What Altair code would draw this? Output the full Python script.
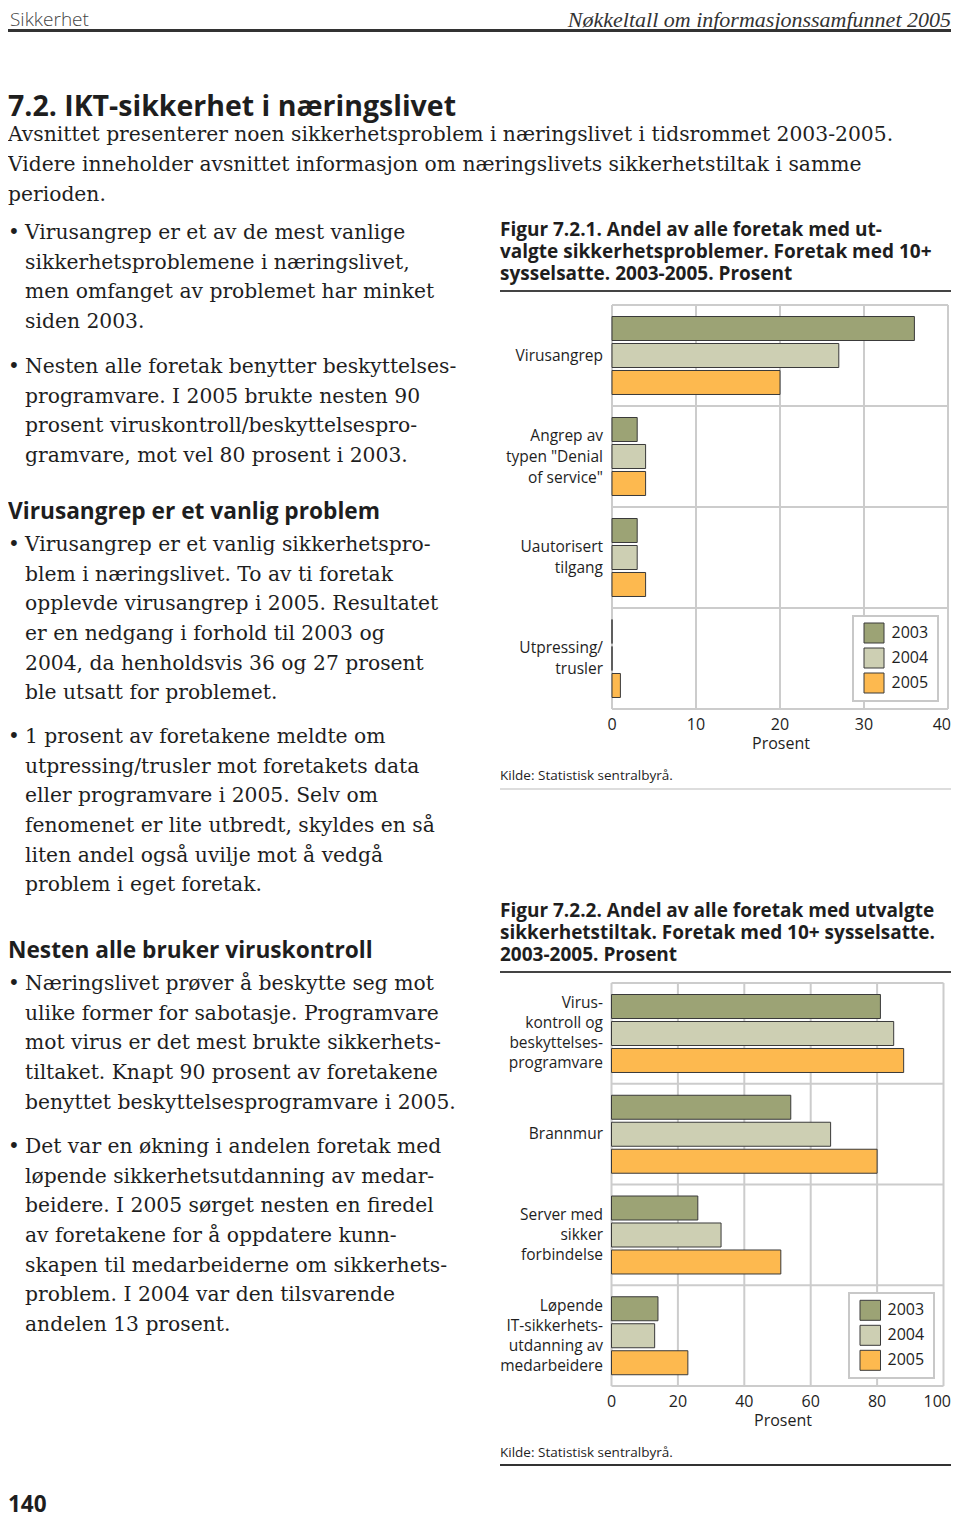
import altair as alt
import pandas as pd

# ---------------- data ----------------
years = ["2003", "2004", "2005"]
year_colors = ["#9ca375", "#cdcfb3", "#fdb94f"]

fig1_cats = ["Virusangrep", "Denial of service", "Uautorisert tilgang", "Utpressing/trusler"]
fig1_labels = ["Virusangrep", "Angrep av\ntypen \"Denial\nof service\"", "Uautorisert\ntilgang", "Utpressing/\ntrusler"]
fig1_2003 = [36, 3, 3, 0]
fig1_2004 = [27, 4, 3, 0]
fig1_2005 = [20, 4, 4, 1]
fig1_ticks = [0, 10, 20, 30, 40]

fig2_cats = ["Viruskontroll", "Brannmur", "Server", "Løpende utdanning"]
fig2_labels = ["Virus-\nkontroll og\nbeskyttelses-\nprogramvare", "Brannmur",
               "Server med\nsikker\nforbindelse", "Løpende\nIT-sikkerhets-\nutdanning av\nmedarbeidere"]
fig2_2003 = [81, 54, 26, 14]
fig2_2004 = [85, 66, 33, 13]
fig2_2005 = [88, 80, 51, 23]
fig2_ticks = [0, 20, 40, 60, 80, 100]

header_left = "Sikkerhet"
header_right = "Nøkkeltall om informasjonssamfunnet 2005"
main_heading = "7.2. IKT-sikkerhet  i  næringslivet"
intro_lines = [
    "Avsnittet presenterer noen sikkerhetsproblem i næringslivet i tidsrommet 2003-2005.",
    "Videre inneholder avsnittet informasjon om næringslivets sikkerhetstiltak i samme",
    "perioden.",
]
bullet1 = ["Virusangrep er et av de mest vanlige", "sikkerhetsproblemene i næringslivet,",
           "men omfanget av problemet har minket", "siden 2003."]
bullet2 = ["Nesten alle foretak benytter beskyttelses-", "programvare. I 2005 brukte nesten 90",
           "prosent viruskontroll/beskyttelsespro-", "gramvare, mot vel 80 prosent i 2003."]
heading2 = "Virusangrep er et vanlig problem"
bullet3 = ["Virusangrep er et vanlig sikkerhetspro-", "blem i næringslivet. To av ti foretak",
           "opplevde virusangrep i 2005. Resultatet", "er en nedgang i forhold til 2003 og",
           "2004, da henholdsvis 36 og 27 prosent", "ble utsatt for problemet."]
bullet4 = ["1 prosent av foretakene meldte om", "utpressing/trusler mot foretakets data",
           "eller programvare i 2005. Selv om", "fenomenet er lite utbredt, skyldes en så",
           "liten andel også uvilje mot å vedgå", "problem i eget foretak."]
heading3 = "Nesten alle bruker viruskontroll"
bullet5 = ["Næringslivet prøver å beskytte seg mot", "ulike former for sabotasje. Programvare",
           "mot virus er det mest brukte sikkerhets-", "tiltaket. Knapt 90 prosent av foretakene",
           "benyttet beskyttelsesprogramvare i 2005."]
bullet6 = ["Det var en økning i andelen foretak med", "løpende sikkerhetsutdanning av medar-",
           "beidere. I 2005 sørget nesten en firedel", "av foretakene for å oppdatere kunn-",
           "skapen til medarbeiderne om sikkerhets-", "problem. I 2004 var den tilsvarende",
           "andelen 13 prosent."]
fig1_title = ["Figur 7.2.1. Andel av alle foretak med ut-", "valgte sikkerhetsproblemer. Foretak med 10+",
              "sysselsatte. 2003-2005. Prosent"]
fig2_title = ["Figur 7.2.2. Andel av alle foretak med utvalgte", "sikkerhetstiltak. Foretak med 10+ sysselsatte.",
              "2003-2005. Prosent"]
source = "Kilde: Statistisk sentralbyrå."
axis_title = "Prosent"
page_number = "140"

# ---------------- styling / layout ----------------
SERIF = "DejaVu Serif"
SANS = "Open Sans"
TXT = "#1e1e1e"
GRID = "#cccccc"
M = 8  # page margin
LEFT = 8  # left edge of text column
PAGE_RIGHT = 951  # last visible pixel column of the drawing


def P(v):
    return v - M


dummy = pd.DataFrame({"a": [0]})


def text_block(lines, x, y0, size, font, lh=None, weight="normal", style="normal",
               align="left", color=TXT):
    lh = lh or size * 1.2
    df = pd.DataFrame({"t": ["\n".join(lines)]})
    return alt.Chart(df).mark_text(
        align=align, baseline="middle", font=font, fontSize=size, fontWeight=weight,
        fontStyle=style, lineBreak="\n", lineHeight=lh, color=color
    ).encode(x=alt.value(P(x)), y=alt.value(P(y0)), text="t:N")


def hrule(x1, x2, y, color, width):
    return alt.Chart(dummy).mark_rule(color=color, strokeWidth=width).encode(
        x=alt.value(P(x1)), x2=alt.value(P(x2)), y=alt.value(P(y)))


def bullet(lines, y0):
    return [
        text_block(["•"], LEFT, y0, 20, SERIF),
        text_block(lines, 25, y0, 20.3, SERIF, lh=29.67),
    ]


def bar_panel(cats, labels, v03, v04, v05, ticks, left, right, top, bottom,
              label_lh, tick_y, title_x, title_y, leg_box, leg_sw, leg_lab_x):
    xs = alt.Scale(domain=[ticks[0], ticks[-1]], range=[P(left), P(right)], nice=False)
    ys = alt.Scale(domain=cats, range=[P(top), P(bottom)], paddingInner=0, paddingOuter=0)
    cscale = alt.Scale(domain=years, range=year_colors)
    rows = []
    for c, a, b, d in zip(cats, v03, v04, v05):
        rows += [{"cat": c, "year": years[0], "v": a},
                 {"cat": c, "year": years[1], "v": b},
                 {"cat": c, "year": years[2], "v": d}]
    bars_df = pd.DataFrame(rows)
    tick_df = pd.DataFrame({"t": ticks, "lab": [str(t) for t in ticks]})
    cat_df = pd.DataFrame({"cat": cats, "label": labels})
    year_df = pd.DataFrame({"year": years})

    layers = []
    # vertical grid
    layers.append(alt.Chart(tick_df).mark_rule(color=GRID, strokeWidth=2).encode(
        x=alt.X("t:Q", scale=xs, axis=None), y=alt.value(P(top)), y2=alt.value(P(bottom))))
    # horizontal grid (band starts) and bottom frame
    layers.append(alt.Chart(cat_df).mark_rule(color=GRID, strokeWidth=2).encode(
        y=alt.Y("cat:N", scale=ys, axis=None, bandPosition=0),
        x=alt.value(P(left)), x2=alt.value(P(right))))
    layers.append(hrule(left, right, bottom, GRID, 2))
    # bars
    layers.append(alt.Chart(bars_df).mark_bar(stroke="#3a3a3a", strokeWidth=1).encode(
        x=alt.X("v:Q", scale=xs, axis=None),
        y=alt.Y("cat:N", scale=ys, axis=None, sort=cats),
        yOffset=alt.YOffset("year:N", scale=alt.Scale(domain=years, paddingInner=0.111,
                                                      paddingOuter=0.426)),
        color=alt.Color("year:N", scale=cscale, legend=None)))
    # category labels (one layer each, centred on the band)
    for c, lab in zip(cats, labels):
        n = lab.count("\n") + 1
        layers.append(alt.Chart(pd.DataFrame({"cat": [c], "label": [lab]})).mark_text(
            align="right", baseline="middle", font=SANS, fontSize=15.5, lineBreak="\n",
            lineHeight=label_lh, color=TXT, dy=-(n - 1) * label_lh / 2).encode(
            x=alt.value(P(603)), y=alt.Y("cat:N", scale=ys, axis=None), text="label:N"))
    # tick labels (the last one kept inside the drawing's right edge)
    layers.append(alt.Chart(tick_df.iloc[:-1]).mark_text(
        align="center", baseline="middle", font=SANS, fontSize=16, color=TXT).encode(
        x=alt.X("t:Q", scale=xs, axis=None), y=alt.value(P(tick_y)), text="lab:N"))
    layers.append(alt.Chart(tick_df.iloc[-1:]).mark_text(
        align="right", baseline="middle", font=SANS, fontSize=16, color=TXT,
        dx=PAGE_RIGHT - right).encode(
        x=alt.X("t:Q", scale=xs, axis=None), y=alt.value(P(tick_y)), text="lab:N"))
    layers.append(text_block([axis_title], title_x, title_y, 16, SANS, align="center"))
    # legend
    bx1, bx2, by1, by2 = leg_box
    layers.append(alt.Chart(dummy).mark_rect(fill="white", stroke="#c8c8c8", strokeWidth=2).encode(
        x=alt.value(P(bx1)), x2=alt.value(P(bx2)), y=alt.value(P(by1)), y2=alt.value(P(by2))))
    sx1, sx2, sy1, sy2 = leg_sw
    ls = alt.Scale(domain=years, range=[P(sy1), P(sy2)], paddingInner=0.2, paddingOuter=0.1)
    layers.append(alt.Chart(year_df).mark_rect(stroke="#3a3a3a", strokeWidth=1).encode(
        x=alt.value(P(sx1)), x2=alt.value(P(sx2)),
        y=alt.Y("year:N", scale=ls, axis=None),
        color=alt.Color("year:N", scale=cscale, legend=None)))
    layers.append(alt.Chart(year_df).mark_text(
        align="left", baseline="middle", font=SANS, fontSize=16, color=TXT).encode(
        x=alt.value(P(leg_lab_x)), y=alt.Y("year:N", scale=ls, axis=None), text="year:N"))
    return layers


layers = []
# header
layers.append(text_block([header_left], LEFT + 2, 19.5, 19, SANS, weight=300, color="#444444"))
layers.append(text_block([header_right], PAGE_RIGHT, 20, 22, "Liberation Serif", style="italic",
                         align="right", color="#333333"))
layers.append(hrule(LEFT, PAGE_RIGHT, 30.5, "#333333", 3))

# left column
layers.append(text_block([main_heading], LEFT, 107, 28.5, SANS, weight="bold"))
layers.append(text_block(intro_lines, LEFT, 135, 20.3, SERIF, lh=30))
layers += bullet(bullet1, 233)
layers += bullet(bullet2, 367)
layers.append(text_block([heading2], LEFT, 512, 22.7, SANS, weight="bold"))
layers += bullet(bullet3, 545)
layers += bullet(bullet4, 737)
layers.append(text_block([heading3], LEFT, 951, 22.7, SANS, weight="bold"))
layers += bullet(bullet5, 984)
layers += bullet(bullet6, 1147)
layers.append(text_block([page_number], LEFT, 1505, 22.5, SANS, weight="bold"))

# figure 1
layers.append(text_block(fig1_title, 500, 230, 19, SANS, lh=22, weight="bold"))
layers.append(hrule(500, PAGE_RIGHT, 291, "#444444", 2))
layers += bar_panel(fig1_cats, fig1_labels, fig1_2003, fig1_2004, fig1_2005, fig1_ticks,
                    612, 948, 305, 709, 21, 725, 781, 744,
                    (853, 938, 616, 701), (864, 884, 620.5, 695.5), 891.5)
layers.append(text_block([source], 500, 776, 13.5, SANS))
layers.append(hrule(500, PAGE_RIGHT, 789, "#bbbbbb", 1))

# figure 2
layers.append(text_block(fig2_title, 500, 911, 19, SANS, lh=22, weight="bold"))
layers.append(hrule(500, PAGE_RIGHT, 972, "#444444", 2))
layers += bar_panel(fig2_cats, fig2_labels, fig2_2003, fig2_2004, fig2_2005, fig2_ticks,
                    611.5, 943.5, 983, 1386, 20, 1402, 783, 1421,
                    (849, 934, 1293, 1378), (860, 880.5, 1297.8, 1372.8), 887.5)
layers.append(text_block([source], 500, 1453, 13.5, SANS))
layers.append(hrule(500, PAGE_RIGHT, 1465, "#333333", 2))

chart = alt.layer(*layers).resolve_scale(
    x="independent", y="independent", color="shared"
).properties(
    width=944, height=1510, padding=0,
    autosize=alt.AutoSizeParams(type="none"),
).configure_view(stroke=None)

chart.save("out.html", embed_options={"renderer": "svg", "actions": False})
